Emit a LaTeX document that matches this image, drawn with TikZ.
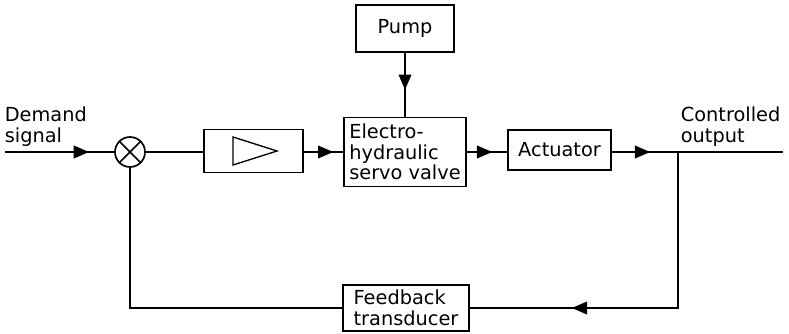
\documentclass[tikz,border=0pt]{standalone}
\usepackage{fontspec}
\setmainfont{DejaVu Sans}
\usetikzlibrary{arrows.meta,decorations.markings}

\tikzset{
  block/.style={draw, rectangle, inner sep=0pt, align=left,
    font=\fontsize{14.5}{15.5}\selectfont},
  lbl/.style={inner sep=0pt, align=left, font=\fontsize{14.5}{15.5}\selectfont},
  sumjn/.style={draw, circle, inner sep=0pt, minimum size=22.5pt},
  midarrow/.style={postaction={decorate, decoration={markings,
    mark=at position #1 with {\arrow{Triangle[length=11.5pt,width=9.5pt]}}}}}
}

\begin{document}
\begin{tikzpicture}[x=0.75pt, y=-0.75pt, line width=1.25pt]
  \useasboundingbox (0,0) rectangle (789,333);

  % Forward path
  \coordinate (in) at (5,152);
  \node[sumjn] (sum) at (130,152) {};
  \node[block, minimum width=74.25pt, minimum height=32.25pt] (amp) at (253.5,151) {};
  \node[block, minimum width=91.5pt, minimum height=51.75pt] (valve) at (405,152) {Electro-\\hydraulic\\servo valve};
  \node[block, minimum width=73.5pt, minimum height=35.25pt] (pump) at (405,28.5) {Pump};
  \node[block, minimum width=77.25pt, minimum height=30pt] (act) at (559.5,150) {Actuator};
  \coordinate (br) at (678,152);
  \coordinate (out) at (783,152);

  % Feedback path
  \node[block, minimum width=94.5pt, minimum height=34.5pt] (fb) at (406,308) {Feedback\\transducer};

  % Summing junction cross and amplifier symbol
  \draw (sum.north west) -- (sum.south east);
  \draw (sum.north east) -- (sum.south west);
  \draw[line width=1pt] (233,137) -- (277,151) -- (233,165) -- cycle;

  % Connectors
  \draw[midarrow=0.77] (in) -- (sum);
  \draw (sum) -- (sum -| amp.west);
  \draw[midarrow=0.75] (amp.east |- valve) -- (valve);
  \draw[midarrow=0.58] (pump) -- (valve);
  \draw[midarrow=0.63] (valve) -- (valve -| act.west);
  \draw[midarrow=0.58] (act.east |- br) -- (br);
  \draw (br) -- (out);
  \draw[midarrow=0.72] (br) |- (fb);
  \draw (fb) -| (sum);

  % Signal labels
  \node[lbl, anchor=north west] (demand) at (4,106) {Demand\\signal};
  \node[lbl, anchor=north west] (ctrl) at (680,106) {Controlled\\output};
\end{tikzpicture}
\end{document}
